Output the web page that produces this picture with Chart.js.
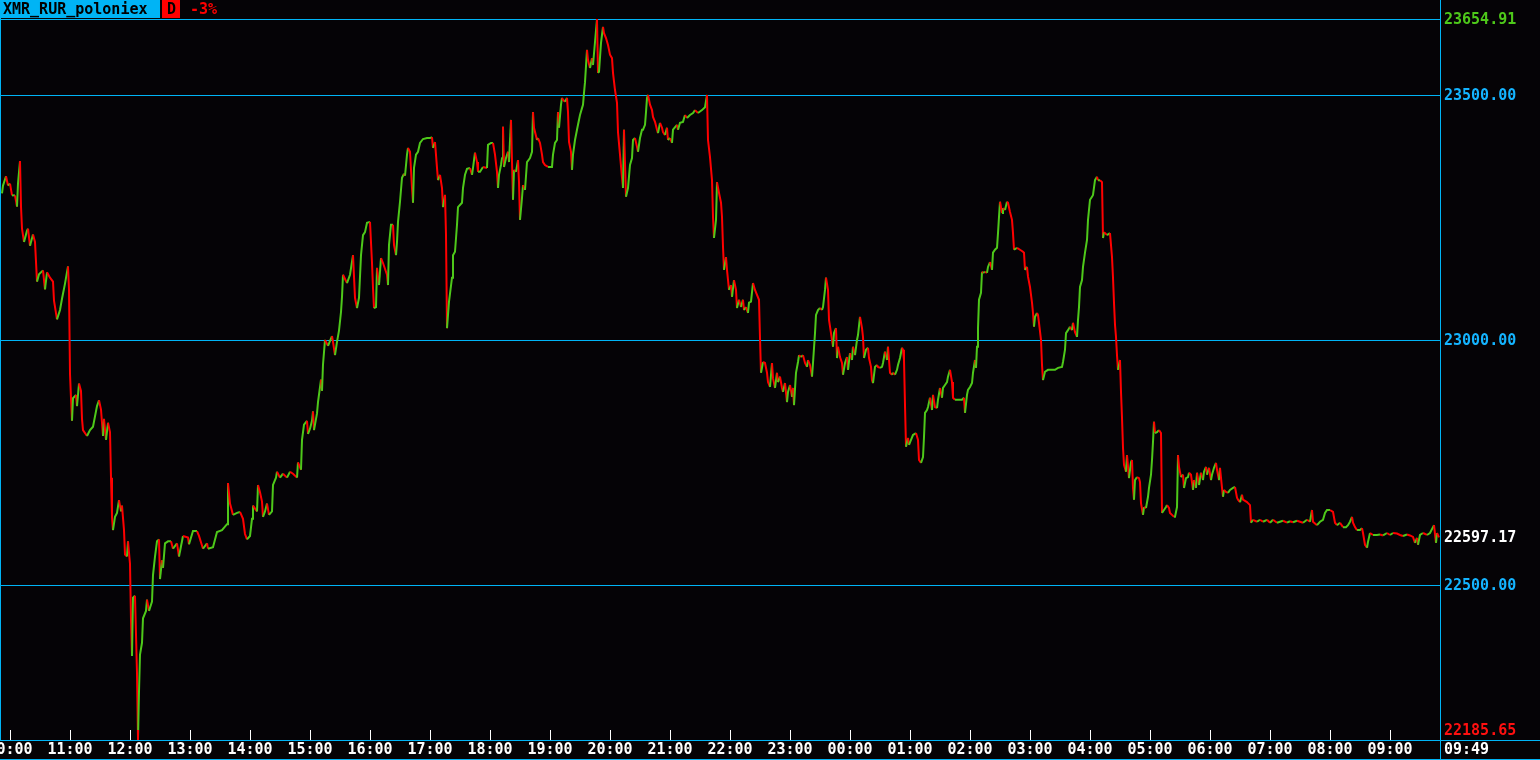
<!DOCTYPE html>
<html>
<head>
<meta charset="utf-8">
<script src="https://cdn.jsdelivr.net/npm/chart.js@4/dist/chart.umd.min.js"></script>
<style>
html,body{margin:0;padding:0;background:#050306;}
canvas{display:block;}
</style>
</head>
<body>
<canvas id="c" width="1540" height="760"></canvas>
<script>
// minutes after 10:00 (day start)
const minutes = [-8,-7,-4,-2,0,2,5,7,8,10,11,12,14,17,18,20,23,25,27,29,33,35,37,40,43,44,47,50,52,55,58,59,60,61,62,63,66,67,69,71,72,73,77,80,83,87,89,91,93,94,96,98,100,101,102,103,105,107,109,111,112,114,115,117,118,120,121,122,123,125,127,128,129,130,132,133,136,137,139,142,143,145,147,149,150,152,153,155,158,161,163,167,169,173,178,179,183,187,189,193,197,198,203,207,212,217,218,220,223,227,230,233,235,237,240,242,243,247,248,250,252,253,255,257,259,262,263,266,267,270,273,277,280,283,287,288,291,292,294,297,298,300,302,303,304,307,308,311,312,313,315,318,322,323,325,327,329,331,332,333,337,340,343,345,347,349,351,353,355,357,360,362,363,364,366,367,369,371,373,377,378,379,381,383,384,386,387,388,390,392,394,395,397,398,400,402,403,404,406,408,410,413,417,420,422,423,425,427,428,430,432,433,435,436,437,439,442,443,445,447,448,452,453,455,457,460,462,463,465,467,468,470,473,477,478,481,483,485,487,488,489,491,492,493,494,496,498,499,501,502,503,504,506,508,509,510,512,513,515,517,520,522,523,524,527,528,530,532,533,535,538,542,543,545,547,548,549,551,552,553,555,557,558,559,561,562,563,565,567,568,570,572,573,574,575,577,578,580,582,583,585,587,588,589,591,593,594,596,598,600,602,603,605,607,608,610,612,613,614,616,618,620,622,623,625,627,628,630,632,633,635,636,637,638,640,642,643,645,647,648,650,652,653,655,657,658,660,662,663,667,668,670,673,675,677,680,683,685,688,692,695,697,698,700,702,703,704,706,707,709,711,712,713,714,716,717,719,721,722,724,726,727,729,731,733,734,736,738,739,741,743,745,747,749,750,751,753,755,757,758,760,762,763,765,767,768,770,772,773,775,777,778,780,782,783,784,786,788,789,791,793,795,797,798,800,802,803,805,806,808,810,812,813,815,816,818,819,821,823,824,826,827,828,830,832,833,835,837,838,840,842,843,845,847,848,850,852,853,854,856,858,859,861,862,863,865,867,868,870,872,873,875,877,878,880,882,883,885,887,888,890,892,893,894,895,896,898,899,901,903,906,908,909,911,913,914,915,917,918,920,922,923,925,927,928,930,932,933,935,937,938,940,942,943,945,948,952,954,955,957,958,960,962,963,965,966,967,968,969,971,972,973,975,977,978,980,982,983,985,987,988,989,990,992,993,995,997,998,1000,1002,1003,1004,1007,1010,1013,1014,1015,1017,1018,1020,1022,1023,1024,1025,1027,1028,1029,1031,1032,1033,1035,1038,1042,1045,1048,1052,1053,1055,1056,1058,1060,1062,1063,1065,1067,1068,1069,1070,1072,1073,1075,1077,1078,1080,1082,1083,1085,1087,1088,1090,1092,1093,1094,1097,1100,1102,1103,1104,1105,1106,1107,1108,1110,1111,1112,1113,1114,1116,1117,1119,1121,1122,1123,1124,1125,1127,1129,1130,1131,1133,1134,1136,1138,1139,1141,1142,1143,1144,1145,1147,1149,1151,1152,1154,1156,1157,1159,1160,1162,1164,1165,1167,1168,1169,1171,1173,1174,1176,1178,1179,1181,1183,1184,1186,1187,1189,1191,1193,1194,1196,1197,1199,1201,1202,1204,1206,1207,1209,1210,1212,1213,1214,1216,1218,1220,1223,1225,1227,1228,1230,1232,1233,1237,1238,1240,1241,1243,1247,1250,1253,1257,1260,1263,1267,1270,1273,1277,1280,1283,1287,1290,1293,1297,1300,1302,1303,1307,1310,1313,1315,1317,1320,1323,1325,1327,1330,1333,1336,1338,1340,1342,1343,1345,1347,1350,1352,1353,1355,1357,1358,1360,1363,1367,1370,1373,1377,1380,1383,1387,1390,1393,1397,1400,1403,1405,1407,1408,1410,1413,1417,1420,1423,1424,1426,1427,1429];

const prices = [23299,23315,23334,23315,23319,23295,23295,23272,23319,23365,23272,23227,23200,23223,23227,23192,23215,23200,23119,23134,23142,23103,23138,23127,23119,23080,23042,23061,23084,23115,23150,23103,22931,22881,22835,22881,22888,22865,22911,22896,22839,22816,22804,22816,22823,22865,22877,22858,22804,22839,22796,22831,22812,22719,22639,22612,22639,22647,22673,22650,22662,22612,22562,22558,22589,22543,22428,22355,22474,22478,22320,22185.65,22282,22358,22382,22432,22447,22470,22447,22466,22520,22558,22589,22593,22512,22550,22535,22585,22589,22589,22574,22585,22558,22600,22597,22583,22610,22610,22600,22574,22585,22574,22577,22608,22612,22624,22708,22666,22643,22647,22649,22635,22604,22593,22600,22635,22662,22650,22704,22689,22670,22639,22650,22666,22643,22650,22704,22719,22731,22719,22727,22719,22731,22727,22719,22750,22735,22796,22827,22835,22808,22819,22835,22854,22816,22850,22873,22919,22896,22950,23000,22988,23008,22996,22969,22996,23019,23057,23088,23133,23116,23133,23173,23086,23065,23086,23173,23214,23220,23239,23241,23157,23106,23065,23067,23147,23112,23167,23157,23133,23112,23194,23235,23235,23194,23173,23200,23241,23282,23331,23339,23335,23378,23392,23384,23310,23280,23351,23378,23384,23402,23410,23412,23412,23414,23392,23404,23351,23326,23337,23310,23271,23296,23214,23024,23078,23127,23173,23180,23235,23271,23280,23310,23337,23349,23351,23337,23351,23382,23363,23343,23343,23353,23351,23398,23402,23402,23378,23343,23310,23337,23357,23371,23435,23353,23371,23384,23363,23449,23363,23286,23347,23343,23367,23322,23245,23290,23316,23306,23363,23371,23384,23465,23433,23408,23412,23402,23378,23363,23357,23353,23353,23378,23402,23408,23465,23433,23480,23494,23490,23486,23494,23465,23404,23384,23347,23378,23408,23429,23439,23459,23473,23480,23504,23526,23592,23571,23555,23575,23561,23608,23654.91,23545,23547,23606,23639,23626,23616,23602,23582,23575,23545,23510,23484,23424,23378,23331,23310,23429,23292,23310,23357,23371,23408,23412,23394,23384,23412,23429,23429,23439,23465,23494,23500,23480,23469,23455,23445,23429,23422,23443,23433,23424,23418,23433,23408,23412,23402,23429,23439,23429,23443,23445,23459,23453,23459,23463,23469,23463,23469,23475,23500,23408,23373,23326,23251,23208,23245,23322,23300,23280,23251,23190,23143,23169,23143,23102,23112,23088,23122,23102,23065,23082,23067,23082,23061,23067,23055,23076,23078,23116,23102,23092,23082,23004,22933,22955,22953,22933,22914,22904,22953,22922,22902,22933,22914,22925,22902,22894,22912,22873,22894,22908,22884,22902,22867,22933,22955,22969,22965,22969,22953,22945,22959,22949,22925,22953,23014,23051,23061,23065,23061,23067,23102,23127,23102,23041,23014,22986,23014,23024,22963,22986,22965,22953,22929,22953,22965,22939,22973,22959,22986,22969,23000,23010,23047,23024,23006,22963,22980,22984,22963,22945,22918,22912,22945,22949,22945,22943,22945,22953,22976,22959,22986,22933,22929,22933,22929,22939,22949,22963,22984,22980,22959,22867,22782,22800,22786,22796,22806,22810,22796,22755,22749,22761,22802,22851,22857,22863,22882,22857,22888,22863,22861,22878,22902,22882,22902,22908,22914,22925,22939,22914,22882,22878,22878,22878,22882,22851,22888,22898,22904,22912,22933,22959,22943,22986,23024,23082,23096,23139,23137,23139,23137,23149,23159,23143,23178,23184,23188,23218,23251,23282,23259,23269,23265,23282,23280,23261,23245,23218,23184,23188,23184,23180,23178,23143,23149,23129,23108,23076,23055,23027,23047,23055,23051,23035,23000,22949,22918,22935,22939,22939,22939,22943,22945,22955,22980,23014,23020,23027,23020,23035,23016,23006,23041,23067,23108,23122,23149,23178,23204,23245,23286,23292,23296,23326,23333,23326,23326,23322,23208,23220,23214,23218,23169,23127,23076,23031,23006,22969,22939,22959,22894,22841,22780,22745,22731,22765,22718,22751,22755,22698,22674,22714,22720,22718,22710,22667,22643,22659,22657,22680,22698,22725,22755,22792,22833,22810,22812,22816,22810,22647,22653,22659,22663,22657,22647,22643,22639,22639,22659,22765,22741,22720,22725,22698,22718,22720,22729,22725,22694,22714,22698,22729,22704,22729,22714,22731,22741,22725,22739,22714,22725,22739,22749,22735,22714,22739,22698,22680,22694,22690,22688,22694,22698,22700,22678,22674,22669,22684,22674,22669,22667,22663,22627,22633,22629,22633,22629,22633,22627,22633,22627,22629,22631,22627,22630,22628,22631,22629,22627,22633,22629,22653,22629,22622,22629,22633,22647,22653,22653,22649,22627,22622,22627,22618,22618,22622,22629,22639,22627,22618,22612,22612,22616,22606,22582,22576,22588,22606,22602,22602,22603,22601,22606,22602,22606,22605,22602,22600,22603,22601,22598,22586,22596,22582,22602,22606,22602,22606,22618,22622,22586,22606,22597.17];

const hourTicks = [0,60,120,180,240,300,360,420,480,540,600,660,720,780,840,900,960,1020,1080,1140,1200,1260,1320,1380];
const hourLabels = ['10:00','11:00','12:00','13:00','14:00','15:00','16:00','17:00','18:00','19:00','20:00','21:00','22:00','23:00','00:00','01:00','02:00','03:00','04:00','05:00','06:00','07:00','08:00','09:00'];
const gridPrices = [23654.91, 23500, 22500, 23000];
const priceLabels = [
  {v:23654.91, t:'23654.91', c:'#4ec81a'},
  {v:23500, t:'23500.00', c:'#14b4ff'},
  {v:23000, t:'23000.00', c:'#14b4ff'},
  {v:22597.17, t:'22597.17', c:'#ffffff'},
  {v:22500, t:'22500.00', c:'#14b4ff'},
  {v:22185.65, t:'22185.65', c:'#ff1010', lift:9}
];
const lastTime = '09:49';
const symbol = 'XMR_RUR_poloniex';
const period = 'D';
const change = '-3%';
const minMinute = 128;

const GREEN = '#4ec81a', RED = '#ff0000', CYAN = '#00b4f5', BG = '#050306';
const FONT = 'bold 15px "DejaVu Sans Mono", "Liberation Mono", monospace';

const deco = {
  id:'deco',
  beforeDraw(chart){
    const c = chart.ctx;
    c.save(); c.fillStyle = BG; c.fillRect(0,0,chart.width,chart.height); c.restore();
  },
  beforeDatasetsDraw(chart){
    const c = chart.ctx, ys = chart.scales.y, a = chart.chartArea;
    c.save();
    c.fillStyle = CYAN;
    gridPrices.forEach(v=>{
      const y = Math.round(ys.getPixelForValue(v));
      c.fillRect(0, y, a.right, 1);
    });
    c.restore();
  },
  afterDraw(chart){
    const c = chart.ctx, xs = chart.scales.x, ys = chart.scales.y, a = chart.chartArea;
    const W = chart.width, H = chart.height;
    c.save();
    // borders
    c.fillStyle = CYAN;
    c.fillRect(0, 0, 1, a.bottom + 2);
    c.fillRect(a.right, 0, 1, H);
    c.fillRect(0, a.bottom + 1, W, 1);
    c.fillRect(0, H - 1, W, 1);
    // hour ticks
    c.fillStyle = '#ffffff';
    hourTicks.forEach(m=>{
      const x = Math.round(xs.getPixelForValue(m));
      c.fillRect(x, a.bottom - 9, 1, 10);
    });
    c.fillStyle = RED;
    const mx = Math.round(xs.getPixelForValue(minMinute));
    c.fillRect(mx - 1, a.bottom - 9, 2, 10);
    // time labels
    c.font = FONT; c.textBaseline = 'middle'; c.textAlign = 'center';
    c.fillStyle = '#ffffff';
    hourTicks.forEach((m,i)=>{
      const x = xs.getPixelForValue(m);
      c.fillText(hourLabels[i], x, a.bottom + 11);
    });
    c.textAlign = 'left';
    c.fillText(lastTime, a.right + 4, a.bottom + 11);
    // price labels
    priceLabels.forEach(p=>{
      c.fillStyle = p.c;
      const y = ys.getPixelForValue(p.v) - (p.lift || 0);
      c.fillText(p.t, a.right + 4, y + 1);
    });
    // header
    c.fillStyle = CYAN; c.fillRect(0, 0, 160, 18);
    c.fillStyle = RED; c.fillRect(162, 0, 18, 18);
    c.fillStyle = '#000000';
    c.fillText(symbol, 3, 10);
    c.fillText(period, 167, 10);
    c.fillStyle = RED;
    c.fillText(change, 190, 10);
    c.restore();
  }
};

new Chart(document.getElementById('c'), {
  type:'line',
  data:{
    datasets:[{
      data: minutes.map((m,i)=>({x:m, y:prices[i]})),
      borderWidth:2,
      borderColor:GREEN,
      pointRadius:0,
      tension:0,
      clip:3,
      segment:{
        borderColor: ctx => ctx.p1.parsed.y >= ctx.p0.parsed.y ? GREEN : RED
      }
    }]
  },
  options:{
    responsive:false,
    animation:false,
    devicePixelRatio:1,
    layout:{padding:{left:2, top:19, right:100, bottom:21}},
    scales:{
      x:{type:'linear', min:-8, max:1430, display:false},
      y:{type:'linear', min:22185.65, max:23654.91, display:false}
    },
    plugins:{legend:{display:false}, tooltip:{enabled:false}}
  },
  plugins:[deco]
});
</script>
</body>
</html>
